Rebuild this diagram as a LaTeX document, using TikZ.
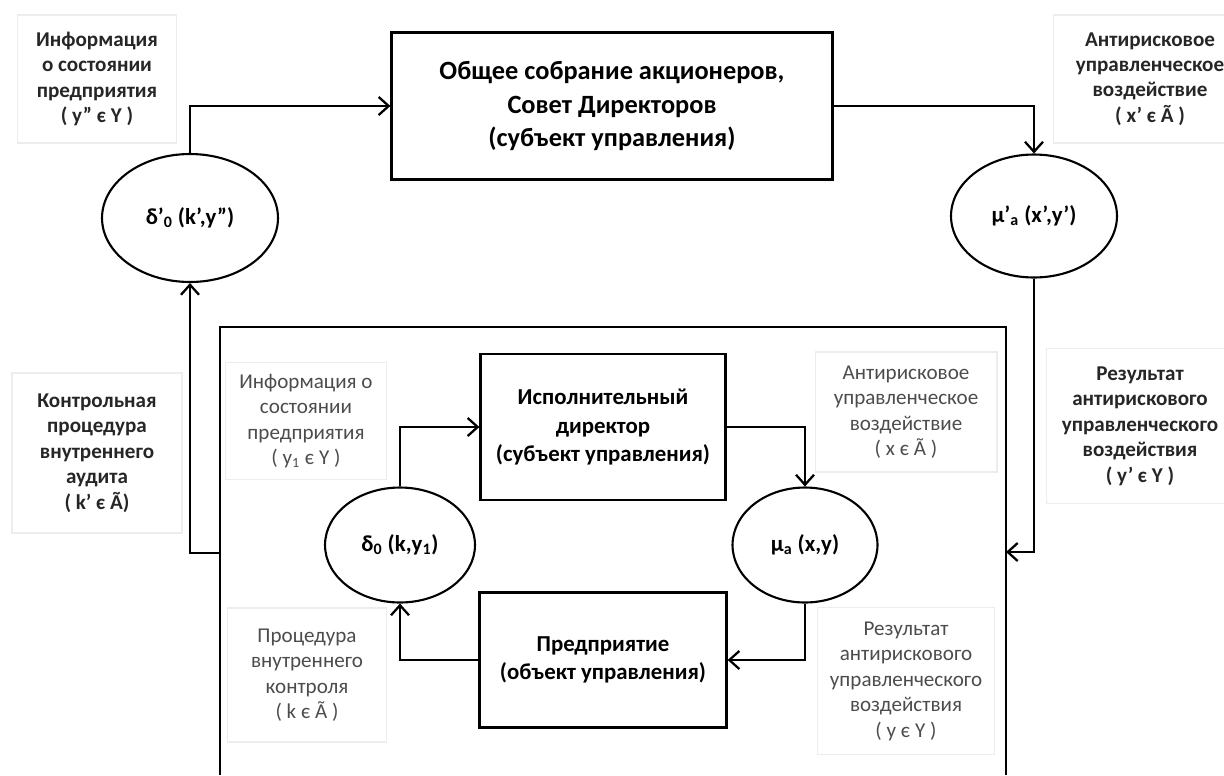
\documentclass[tikz,border=0pt]{standalone}
\usepackage{fontspec}
\setmainfont{Carlito}
\usetikzlibrary{shapes.geometric,arrows.meta}
\tikzset{
	blk/.style={draw=black, line width=1.3pt, align=center, inner sep=0pt,
		font=\fontsize{13}{16}\selectfont\bfseries},
	ell/.style={draw=black, line width=1.2pt, ellipse, inner sep=0pt,
		font=\fontsize{13}{16}\selectfont\bfseries},
	lbl/.style={draw=black!7, line width=0.6pt, align=center, inner sep=0pt,
		font=\fontsize{12}{14.5}\selectfont\bfseries, text=black!85},
	lblin/.style={lbl, font=\fontsize{12}{14.5}\selectfont, text=black!70},
	arr/.style={line width=1.3pt, -{Straight Barb[length=2mm,width=3.6mm]}},
}
\begin{document}
\begin{tikzpicture}[x=0.02cm,y=-0.02cm]
	\useasboundingbox (0,0) rectangle (1224,775);
	% Верхний контур
	\node[blk, minimum width=8.82cm, minimum height=2.94cm,
		font=\fontsize{15}{19}\selectfont\bfseries] (board) at (612,106)
		{Общее собрание акционеров,\\Совет Директоров\\(субъект управления)};
	\node[ell, minimum width=3.52cm, minimum height=2.56cm] (dp) at (190,218) {δ’\textsubscript{0} (k’,y”)};
	\node[ell, minimum width=3.32cm, minimum height=2.46cm] (mp) at (1034,216) {μ’\textsubscript{a} (x’,y’)};
	\node[lbl, minimum width=3.18cm, minimum height=2.56cm] (infotop) at (97,79)
		{Информация\\о состоянии\\предприятия\\( y” є Y )};
	\node[lbl, minimum width=3.88cm, minimum height=2.56cm] (acttop) at (1150,79)
		{Антирисковое\\управленческое\\воздействие\\( x’ є Ã )};
	\node[lbl, minimum width=3.4cm, minimum height=3.2cm] (audit) at (97,453)
		{Контрольная\\процедура\\внутреннего\\аудита\\( k’ є Ã)};
	\node[lbl, minimum width=3.76cm, minimum height=3.1cm] (restop) at (1140,426)
		{Результат\\антирискового\\управленческого\\воздействия\\( y’ є Y )};
	% Внутренний контур
	\draw[line width=1.3pt] (220,775) |- (1006,327) -- (1006,775);
	\coordinate (inl) at (220,553);
	\coordinate (inr) at (1006,552);
	\node[blk, minimum width=4.9cm, minimum height=2.92cm] (dir) at (603,427)
		{Исполнительный\\директор\\(субъект управления)};
	\node[blk, minimum width=4.94cm, minimum height=2.7cm] (firm) at (603,660)
		{Предприятие\\(объект управления)};
	\node[ell, minimum width=3cm, minimum height=2.3cm] (d0) at (400,545) {δ\textsubscript{0} (k,y\textsubscript{1})};
	\node[ell, minimum width=2.9cm, minimum height=2.3cm] (m0) at (805,545) {μ\textsubscript{a} (x,y)};
	\node[lblin, minimum width=3.22cm, minimum height=2.34cm] (infoin) at (306,421)
		{Информация о\\состоянии\\предприятия\\( y\textsubscript{1} є Y )};
	\node[lblin, minimum width=3.18cm, minimum height=2.68cm] (ctrlin) at (307,675)
		{Процедура\\внутреннего\\контроля\\( k є Ã )};
	\node[lblin, minimum width=3.64cm, minimum height=2.4cm] (actin) at (906,412)
		{Антирисковое\\управленческое\\воздействие\\( x є Ã )};
	\node[lblin, minimum width=3.54cm, minimum height=2.94cm] (resin) at (906,681)
		{Результат\\антирискового\\управленческого\\воздействия\\( y є Y )};
	% Связи
	\draw[arr] (dp.north) |- (board.west);
	\draw[arr] (board.east) -| (mp.north);
	\draw[arr] (mp.south) |- (inr);
	\draw[arr] (inl) -| (dp.south);
	\draw[arr] (d0.north) |- (dir.west);
	\draw[arr] (dir.east) -| (m0.north);
	\draw[arr] (m0.south) |- (firm.east);
	\draw[arr] (firm.west) -| (d0.south);
\end{tikzpicture}
\end{document}
